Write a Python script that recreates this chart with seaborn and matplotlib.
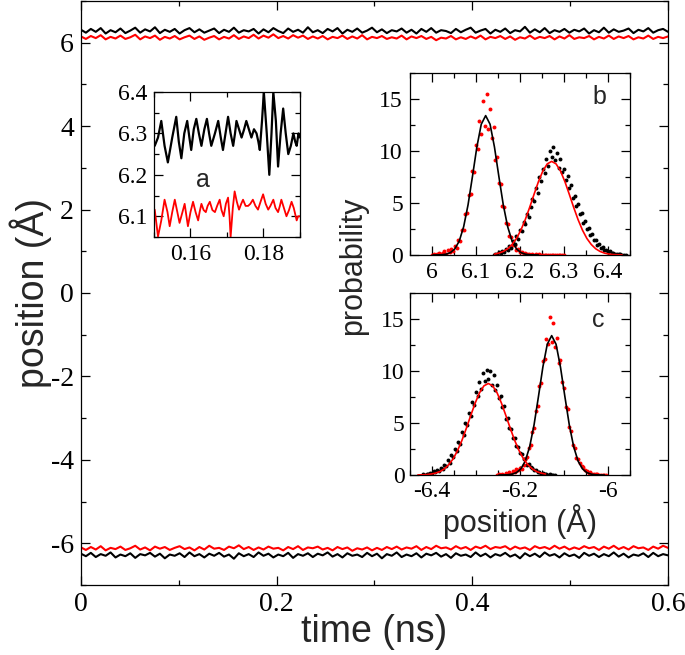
import numpy as np
import matplotlib
matplotlib.use("Agg")
import matplotlib.pyplot as plt
from matplotlib.ticker import MultipleLocator, FuncFormatter
import seaborn as sns

# main traces (position vs time)
top_black = [6.31, 6.24, 6.33, 6.26, 6.35, 6.22, 6.30, 6.25, 6.34, 6.23,
             6.29, 6.36, 6.24, 6.32, 6.27, 6.37, 6.23, 6.31, 6.26, 6.33,
             6.22, 6.30, 6.35, 6.25, 6.32, 6.24, 6.29, 6.34, 6.23, 6.31,
             6.26, 6.36, 6.24, 6.30, 6.27, 6.33, 6.22, 6.32, 6.25, 6.35,
             6.28, 6.23, 6.34, 6.26, 6.31, 6.24, 6.37, 6.25, 6.30, 6.23,
             6.33, 6.27, 6.35, 6.22, 6.31, 6.26, 6.34, 6.24, 6.29, 6.36,
             6.25, 6.32, 6.23, 6.30, 6.27, 6.34, 6.24, 6.31, 6.22, 6.33,
             6.26, 6.35, 6.24, 6.30, 6.28, 6.23, 6.33, 6.25, 6.31, 6.36,
             6.24, 6.29, 6.33, 6.22, 6.31, 6.26, 6.34, 6.23, 6.30, 6.27,
             6.38, 6.24, 6.32, 6.25, 6.35, 6.23, 6.30, 6.26, 6.33, 6.24,
             6.31, 6.27, 6.34, 6.22, 6.30, 6.25, 6.36, 6.24, 6.32, 6.26,
             6.29, 6.34, 6.23, 6.31, 6.27, 6.35, 6.24, 6.30, 6.33, 6.26]
top_red = [6.15, 6.09, 6.16, 6.11, 6.18, 6.08, 6.14, 6.10, 6.17, 6.09,
           6.13, 6.19, 6.08, 6.15, 6.11, 6.17, 6.07, 6.14, 6.10, 6.16,
           6.08, 6.13, 6.17, 6.09, 6.15, 6.07, 6.12, 6.16, 6.08, 6.14,
           6.10, 6.18, 6.09, 6.15, 6.11, 6.19, 6.10, 6.17, 6.12, 6.20,
           6.11, 6.16, 6.10, 6.18, 6.12, 6.17, 6.09, 6.15, 6.10, 6.16,
           6.08, 6.14, 6.11, 6.17, 6.09, 6.15, 6.10, 6.18, 6.08, 6.14,
           6.11, 6.16, 6.09, 6.13, 6.10, 6.17, 6.08, 6.15, 6.11, 6.16,
           6.09, 6.14, 6.06, 6.12, 6.10, 6.16, 6.08, 6.13, 6.09, 6.15,
           6.10, 6.17, 6.08, 6.14, 6.11, 6.16, 6.09, 6.15, 6.07, 6.13,
           6.10, 6.17, 6.09, 6.14, 6.11, 6.16, 6.08, 6.15, 6.10, 6.18,
           6.09, 6.13, 6.11, 6.16, 6.08, 6.14, 6.10, 6.17, 6.09, 6.15,
           6.11, 6.16, 6.08, 6.13, 6.10, 6.17, 6.09, 6.14, 6.11, 6.15]
bot_red = [-6.10, -6.16, -6.09, -6.15, -6.07, -6.17, -6.11, -6.14, -6.08, -6.16,
           -6.12, -6.06, -6.15, -6.10, -6.17, -6.08, -6.13, -6.09, -6.16, -6.11,
           -6.07, -6.14, -6.10, -6.17, -6.09, -6.15, -6.06, -6.13, -6.11, -6.16,
           -6.08, -6.12, -6.05, -6.14, -6.09, -6.16, -6.10, -6.15, -6.08, -6.13,
           -6.11, -6.17, -6.09, -6.14, -6.07, -6.16, -6.10, -6.12, -6.08, -6.15,
           -6.11, -6.17, -6.09, -6.14, -6.10, -6.18, -6.12, -6.15, -6.10, -6.17,
           -6.11, -6.16, -6.09, -6.14, -6.08, -6.15, -6.10, -6.13, -6.07, -6.16,
           -6.09, -6.14, -6.06, -6.12, -6.10, -6.15, -6.07, -6.13, -6.09, -6.16,
           -6.08, -6.12, -6.06, -6.14, -6.09, -6.11, -6.07, -6.15, -6.08, -6.13,
           -6.10, -6.16, -6.07, -6.12, -6.09, -6.14, -6.06, -6.13, -6.08, -6.15,
           -6.10, -6.14, -6.07, -6.12, -6.09, -6.16, -6.08, -6.13, -6.06, -6.14,
           -6.09, -6.15, -6.07, -6.12, -6.10, -6.16, -6.08, -6.13, -6.06, -6.11]
bot_black = [-6.25, -6.31, -6.23, -6.33, -6.26, -6.30, -6.22, -6.34, -6.27, -6.31,
             -6.24, -6.35, -6.26, -6.29, -6.23, -6.32, -6.25, -6.36, -6.27, -6.30,
             -6.24, -6.33, -6.22, -6.31, -6.26, -6.34, -6.25, -6.30, -6.23, -6.32,
             -6.27, -6.37, -6.24, -6.31, -6.26, -6.33, -6.22, -6.30, -6.25, -6.34,
             -6.27, -6.31, -6.23, -6.35, -6.26, -6.30, -6.24, -6.33, -6.25, -6.29,
             -6.22, -6.32, -6.26, -6.34, -6.24, -6.30, -6.27, -6.33, -6.23, -6.31,
             -6.25, -6.36, -6.26, -6.30, -6.22, -6.33, -6.27, -6.31, -6.24, -6.34,
             -6.25, -6.29, -6.23, -6.32, -6.26, -6.35, -6.24, -6.30, -6.27, -6.33,
             -6.22, -6.31, -6.25, -6.34, -6.26, -6.30, -6.23, -6.32, -6.27, -6.36,
             -6.24, -6.31, -6.25, -6.33, -6.22, -6.30, -6.26, -6.34, -6.24, -6.31,
             -6.27, -6.35, -6.23, -6.30, -6.25, -6.33, -6.26, -6.31, -6.22, -6.32,
             -6.25, -6.34, -6.27, -6.30, -6.24, -6.33, -6.23, -6.31, -6.26, -6.29]

# inset a: zoom of the top traces
a_black_t = [0.1502, 0.1511, 0.1520, 0.1529, 0.1538, 0.1550, 0.1561, 0.1568, 0.1575, 0.1583,
             0.1591, 0.1597, 0.1602, 0.1609, 0.1616, 0.1623, 0.1630, 0.1638, 0.1645, 0.1651,
             0.1657, 0.1667, 0.1676, 0.1683, 0.1689, 0.1696, 0.1703, 0.1710, 0.1717, 0.1722,
             0.1726, 0.1733, 0.1740, 0.1747, 0.1753, 0.1760, 0.1767, 0.1774, 0.1781, 0.1786,
             0.1790, 0.1796, 0.1801, 0.1809, 0.1816, 0.1822, 0.1827, 0.1834, 0.1840, 0.1847,
             0.1854, 0.1861, 0.1868, 0.1875, 0.1882, 0.1887, 0.1891, 0.1896, 0.1900]
a_black_v = [6.27, 6.29, 6.33, 6.27, 6.23, 6.29, 6.34, 6.28, 6.24, 6.30,
             6.33, 6.29, 6.26, 6.31, 6.335, 6.30, 6.27, 6.31, 6.335, 6.30,
             6.27, 6.30, 6.33, 6.29, 6.26, 6.30, 6.34, 6.30, 6.27, 6.30,
             6.33, 6.31, 6.29, 6.31, 6.33, 6.31, 6.29, 6.31, 6.30, 6.28,
             6.26, 6.33, 6.40, 6.30, 6.20, 6.30, 6.40, 6.33, 6.22, 6.30,
             6.36, 6.30, 6.25, 6.27, 6.30, 6.28, 6.27, 6.30, 6.29]
a_red_t = [0.1502, 0.1511, 0.1520, 0.1529, 0.1537, 0.1543, 0.1550, 0.1557, 0.1564, 0.1570,
           0.1578, 0.1584, 0.1589, 0.1593, 0.1600, 0.1607, 0.1614, 0.1621, 0.1625, 0.1630,
           0.1636, 0.1642, 0.1647, 0.1653, 0.1660, 0.1667, 0.1673, 0.1680, 0.1685, 0.1691,
           0.1697, 0.1703, 0.1707, 0.1710, 0.1716, 0.1721, 0.1727, 0.1733, 0.1739, 0.1744,
           0.1751, 0.1758, 0.1764, 0.1771, 0.1778, 0.1785, 0.1792, 0.1799, 0.1806, 0.1813,
           0.1819, 0.1827, 0.1833, 0.1840, 0.1845, 0.1849, 0.1856, 0.1863, 0.1870, 0.1877,
           0.1883, 0.1891, 0.1895, 0.1900]
a_red_v = [6.116, 6.051, 6.09, 6.14, 6.11, 6.076, 6.11, 6.14, 6.11, 6.084,
           6.11, 6.13, 6.10, 6.076, 6.11, 6.135, 6.11, 6.09, 6.11, 6.13,
           6.115, 6.11, 6.125, 6.135, 6.115, 6.11, 6.125, 6.14, 6.115, 6.10,
           6.13, 6.145, 6.10, 6.05, 6.12, 6.16, 6.135, 6.116, 6.13, 6.14,
           6.125, 6.125, 6.13, 6.14, 6.125, 6.116, 6.135, 6.153, 6.13, 6.116,
           6.125, 6.14, 6.12, 6.11, 6.125, 6.14, 6.12, 6.10, 6.115, 6.135,
           6.12, 6.09, 6.10, 6.10]

# inset b: histograms (bin step 0.004) and gaussian fits (step 0.01)
b_red_x0 = 6.000
b_red = [0.02, 0.05, 0.00, 0.08, 0.15, 0.05, 0.20, 0.35, 0.12, 0.45,
         0.30, 0.60, 0.35, 0.85, 0.70, 1.40, 1.35, 2.45, 2.40, 3.90,
         4.00, 5.80, 5.90, 8.10, 8.00, 10.60, 10.20, 12.90, 11.60, 14.80,
         12.40, 15.50, 12.10, 14.00, 11.20, 12.30, 9.10, 9.40, 6.90, 6.80,
         4.70, 4.60, 3.10, 2.95, 1.85, 1.70, 0.95, 1.00, 0.50, 0.55,
         0.25, 0.30, 0.10, 0.18, 0.05, 0.12, 0.03, 0.08, 0.00, 0.06,
         0.02, 0.05, 0.00, 0.04, 0.01, 0.03, 0.00, 0.02, 0.01, 0.00,
         0.02, 0.00, 0.01, 0.00, 0.01, 0.00]
b_black_x0 = 6.140
b_black = [0.02, 0.10, 0.05, 0.25, 0.15, 0.40, 0.30, 0.60, 0.45, 0.85,
           0.70, 1.30, 1.05, 1.80, 1.50, 2.40, 2.30, 3.20, 3.00, 3.90,
           3.70, 4.60, 5.40, 5.20, 6.40, 6.00, 7.50, 7.10, 8.30, 7.90,
           9.20, 8.60, 10.00, 9.40, 10.40, 9.10, 9.80, 8.40, 9.20, 8.00,
           8.30, 7.20, 7.60, 6.40, 6.70, 5.50, 5.70, 4.70, 4.90, 3.90,
           4.00, 3.10, 3.30, 2.50, 2.60, 1.90, 2.00, 1.40, 1.45, 1.00,
           1.05, 0.70, 0.75, 0.45, 0.50, 0.30, 0.35, 0.18, 0.22, 0.10,
           0.12, 0.05, 0.06, 0.02, 0.03, 0.01]
b_fit_red_x0 = 6.002
b_fit_red = [0.00, 0.01, 0.02, 0.08, 0.23, 0.59, 1.34, 2.72, 4.83, 7.55,
             10.38, 12.57, 13.4, 12.57, 10.38, 7.55, 4.83, 2.72, 1.34, 0.59,
             0.23, 0.08, 0.02, 0.01, 0.00]
b_fit_black_x0 = 6.142
b_fit_black = [0.09, 0.18, 0.34, 0.60, 1.01, 1.59, 2.39, 3.40, 4.58, 5.84,
               7.06, 8.08, 8.76, 9.0, 8.76, 8.08, 7.06, 5.84, 4.58, 3.40,
               2.39, 1.59, 1.01, 0.60, 0.34, 0.18, 0.09, 0.04, 0.02, 0.01]

# inset c
c_red_x0 = -6.252
c_red = [0.03, 0.06, 0.01, 0.10, 0.04, 0.15, 0.05, 0.25, 0.12, 0.40,
         0.30, 0.55, 0.45, 0.70, 0.60, 1.00, 1.50, 1.70, 2.60, 2.90,
         4.10, 4.50, 6.20, 6.60, 8.60, 8.80, 11.00, 11.20, 13.10, 12.60,
         15.20, 12.80, 14.60, 12.30, 13.20, 10.80, 11.10, 8.90, 8.40, 6.50,
         6.30, 4.60, 4.20, 2.90, 2.60, 1.60, 1.55, 1.20, 0.90, 0.80,
         0.45, 0.40, 0.22, 0.25, 0.10, 0.12, 0.05, 0.06, 0.02, 0.03,
         0.00, 0.01, 0.00]
c_black_x0 = -6.420
c_black = [0.05, 0.02, 0.10, 0.08, 0.20, 0.15, 0.35, 0.25, 0.50, 0.40,
           0.70, 0.60, 1.00, 0.85, 1.40, 1.20, 1.90, 1.70, 2.50, 2.30,
           3.20, 3.00, 4.10, 3.80, 5.00, 4.80, 6.00, 5.70, 7.00, 6.70,
           8.00, 7.60, 8.90, 8.30, 9.80, 9.00, 10.10, 9.20, 10.00, 8.70,
           9.60, 8.20, 8.70, 7.40, 7.60, 6.50, 6.60, 5.40, 5.50, 4.50,
           4.40, 3.60, 3.60, 2.80, 2.70, 2.10, 2.00, 1.50, 1.50, 1.00,
           1.10, 0.80, 0.70, 0.45, 0.45, 0.25, 0.30, 0.12, 0.18, 0.06,
           0.10, 0.03, 0.05, 0.01, 0.02, 0.00]
c_fit_red_x0 = -6.248
c_fit_red = [0.00, 0.01, 0.02, 0.08, 0.23, 0.59, 1.34, 2.72, 4.83, 7.55,
             10.38, 12.57, 13.4, 12.57, 10.38, 7.55, 4.83, 2.72, 1.34, 0.59,
             0.23, 0.08, 0.02, 0.01, 0.00]
c_fit_black_x0 = -6.432
c_fit_black = [0.01, 0.02, 0.04, 0.09, 0.18, 0.33, 0.59, 0.99, 1.55, 2.34,
               3.32, 4.48, 5.71, 6.9, 7.9, 8.57, 8.8, 8.57, 7.9, 6.9,
               5.71, 4.48, 3.32, 2.34, 1.55, 0.99, 0.59, 0.33, 0.18, 0.09]

RED = '#ff0000'
SANS = ['Liberation Sans', 'DejaVu Sans']

sns.set_style("ticks")
plt.rcParams['font.family'] = ['Liberation Serif', 'DejaVu Serif']
plt.rcParams['axes.unicode_minus'] = False


def grid(x0, step, vals):
    return np.round(x0 + step * np.arange(len(vals)), 4)


def style(ax, size, xmaj, xmin, ymaj, ymin, pad=5):
    ax.tick_params(which='both', direction='in', top=True, right=True,
                   labelsize=size, width=0.9, colors='black')
    ax.tick_params(which='major', length=6.5, pad=pad)
    ax.tick_params(which='minor', length=3.5)
    for sp in ax.spines.values():
        sp.set_linewidth(0.9)
        sp.set_color('black')
    ax.xaxis.set_major_locator(MultipleLocator(xmaj))
    ax.xaxis.set_minor_locator(MultipleLocator(xmin))
    ax.yaxis.set_major_locator(MultipleLocator(ymaj))
    ax.yaxis.set_minor_locator(MultipleLocator(ymin))
    fmt = FuncFormatter(lambda v, p: f'{v:g}' if abs(v) > 1e-9 else '0')
    ax.xaxis.set_major_formatter(fmt)
    ax.yaxis.set_major_formatter(fmt)


fig = plt.figure(figsize=(6.85, 6.55), dpi=100)

# main panel
ax = fig.add_axes([0.1182, 0.1069, 0.857, 0.8916])
t_main = np.linspace(0, 0.6, len(top_black))
sns.lineplot(x=t_main, y=top_black, color='black', lw=1.5, ax=ax)
sns.lineplot(x=t_main, y=top_red, color=RED, lw=1.5, ax=ax)
sns.lineplot(x=t_main, y=bot_black, color='black', lw=1.5, ax=ax)
sns.lineplot(x=t_main, y=bot_red, color=RED, lw=1.5, ax=ax)
ax.set_xlim(0, 0.6)
ax.set_ylim(-7, 7)
style(ax, 20, 0.2, 0.1, 2, 1)
ax.set_xlabel('time (ns)', fontsize=27, family=SANS)
ax.set_ylabel('position (Å)', fontsize=27, family=SANS)
ax.xaxis.set_label_coords(0.5, -0.05)
ax.yaxis.set_label_coords(-0.05, 0.5)

# inset a
axa = fig.add_axes([0.2248, 0.6382, 0.2131, 0.2214])
sns.lineplot(x=a_black_t, y=a_black_v, color='black', lw=1.6, ax=axa)
sns.lineplot(x=a_red_t, y=a_red_v, color=RED, lw=1.3, ax=axa)
axa.set_xlim(0.15, 0.19)
axa.set_ylim(6.05, 6.4)
style(axa, 17, 0.02, 0.01, 0.1, 0.05)
axa.text(0.1634, 6.188, 'a', fontsize=18, family=SANS, ha='center', va='center')

# inset b
axb = fig.add_axes([0.5985, 0.6107, 0.3212, 0.2779])
sns.scatterplot(x=grid(b_red_x0, 0.004, b_red), y=b_red, color=RED, s=8,
                linewidth=0, ax=axb)
sns.scatterplot(x=grid(b_black_x0, 0.004, b_black), y=b_black, color='black', s=8,
                linewidth=0, ax=axb)
sns.lineplot(x=grid(b_fit_red_x0, 0.01, b_fit_red), y=b_fit_red, color='black', lw=1.2, ax=axb)
sns.lineplot(x=grid(b_fit_black_x0, 0.01, b_fit_black), y=b_fit_black, color=RED, lw=1.2, ax=axb)
axb.set_xlim(5.95, 6.45)
axb.set_ylim(0, 17.5)
style(axb, 17, 0.1, 0.05, 5, 2.5)
axb.text(0.86, 0.87, 'b', fontsize=18, family=SANS, ha='center', va='center',
         transform=axb.transAxes)

# inset c
axc = fig.add_axes([0.5985, 0.2748, 0.3212, 0.2779])
sns.scatterplot(x=grid(c_black_x0, 0.004, c_black), y=c_black, color='black', s=8,
                linewidth=0, ax=axc)
sns.scatterplot(x=grid(c_red_x0, 0.004, c_red), y=c_red, color=RED, s=8,
                linewidth=0, ax=axc)
sns.lineplot(x=grid(c_fit_red_x0, 0.01, c_fit_red), y=c_fit_red, color='black', lw=1.2, ax=axc)
sns.lineplot(x=grid(c_fit_black_x0, 0.01, c_fit_black), y=c_fit_black, color=RED, lw=1.2, ax=axc)
axc.set_xlim(-6.45, -5.95)
axc.set_ylim(0, 17.5)
style(axc, 17, 0.2, 0.05, 5, 2.5, pad=4)
axc.text(0.855, 0.85, 'c', fontsize=18, family=SANS, ha='center', va='center',
         transform=axc.transAxes)
axc.set_xlabel('position (Å)', fontsize=22, family=SANS)
axc.xaxis.set_label_coords(0.5, -0.16)

fig.text(0.515, 0.594, 'probability', fontsize=22, family=SANS, rotation=90,
         ha='center', va='center')

fig.savefig('out.png', dpi=100)
